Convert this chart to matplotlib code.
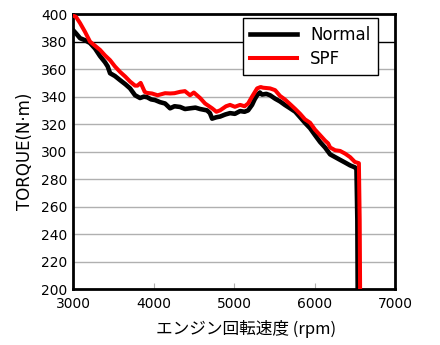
import matplotlib
matplotlib.use("Agg")
import matplotlib.pyplot as plt

# engine speed (rpm) and torque (N·m)
normal_rpm = [3000, 3037, 3087, 3150, 3211, 3273, 3335, 3397, 3430, 3460, 3520,
              3584, 3650, 3708, 3770, 3832, 3880, 3919, 3970, 4018, 4080, 4143,
              4205, 4260, 4329, 4390, 4453, 4520, 4578, 4664, 4700, 4727, 4780,
              4826, 4890, 4950, 5010, 5075, 5130, 5174, 5223, 5255, 5286, 5320,
              5347, 5400, 5447, 5510, 5571, 5630, 5696, 5760, 5820, 5880, 5944,
              6005, 6068, 6130, 6193, 6255, 6317, 6380, 6441, 6503, 6520, 6531,
              6535]
normal_torque = [388.4, 386, 382.5, 381, 379, 375, 369.5, 365, 362, 357, 355,
                 352, 349, 346, 341, 339, 340, 339.6, 338, 337.5, 336, 335,
                 331.5, 333, 332.5, 331, 331.5, 332, 331, 330, 328, 324, 325,
                 325.5, 327, 328, 327.5, 329.5, 329, 330, 334, 338, 341, 343,
                 341.5, 342, 341, 338.5, 336.5, 334, 331.5, 329, 325, 321, 317,
                 312, 307, 303, 298, 296, 294, 292, 290, 288.5, 287, 250,
                 200]

spf_rpm = [3000, 3037, 3087, 3150, 3211, 3273, 3335, 3397, 3460, 3520, 3584,
           3650, 3708, 3770, 3800, 3840, 3890, 3919, 3980, 4050, 4143, 4205,
           4260, 4329, 4390, 4453, 4500, 4578, 4640, 4727, 4780, 4826, 4900,
           4950, 5010, 5075, 5130, 5174, 5223, 5286, 5330, 5360, 5447, 5510,
           5571, 5630, 5696, 5760, 5820, 5880, 5944, 6005, 6068, 6130, 6168,
           6193, 6255, 6317, 6380, 6441, 6500, 6550, 6560, 6565]
spf_torque = [399, 398, 393.5, 387, 380, 377, 374, 370, 366.5, 362, 358,
              354.5, 351, 348, 348, 350, 343.5, 342.7, 342.3, 341, 342.5, 342.3,
              342.5, 343.5, 344, 341, 343, 339, 335, 331.5, 329, 330, 333,
              334, 332.6, 334, 333, 335, 340, 346, 347, 346.5, 346, 344.7,
              340.5, 338, 334.5, 331, 327.5, 323.5, 321, 316, 312, 308, 306,
              303, 301, 300.5, 298.5, 296, 292.5, 291.6, 250, 200]

x_ticks = [3000, 4000, 5000, 6000, 7000]
y_ticks = [200, 220, 240, 260, 280, 300, 320, 340, 360, 380, 400]

plt.rcParams["font.family"] = ["DejaVu Sans", "Noto Sans CJK JP"]

fig = plt.figure(figsize=(4.4, 3.45), dpi=100)
ax = fig.add_axes([0.166, 0.162, 0.732, 0.797])

for y in y_ticks[1:-1]:
    color = "black" if y == 380 else "#b0b0b0"
    ax.axhline(y, color=color, lw=1.0, zorder=1)

ax.plot(normal_rpm, normal_torque, color="black", lw=3.3, label="Normal", zorder=3)
ax.plot(spf_rpm, spf_torque, color="#ff0000", lw=2.9, label="SPF", zorder=4)

ax.set_xlim(3000, 7000)
ax.set_ylim(200, 400)
ax.set_xticks(x_ticks)
ax.set_yticks(y_ticks)
ax.tick_params(axis="x", direction="in", length=4, color="#b0b0b0", labelsize=10, pad=6)
ax.tick_params(axis="y", length=0, labelsize=10, pad=4)
for s in ax.spines.values():
    s.set_linewidth(2)

ax.set_xlabel("エンジン回転速度 (rpm)", fontsize=12,
              family=["Noto Sans CJK JP", "DejaVu Sans"])
ax.xaxis.set_label_coords(0.536, -0.112)
ax.set_ylabel("TORQUE(N·m)", fontsize=12, labelpad=5)

leg = ax.legend(loc="upper right", bbox_to_anchor=(0.947, 0.985), borderaxespad=0,
                fontsize=12, handlelength=2.8, fancybox=False, framealpha=1,
                borderpad=0.45, labelspacing=0.35, handletextpad=0.8)
leg.get_frame().set_edgecolor("black")
leg.get_frame().set_linewidth(1.0)

fig.savefig("out.png", dpi=100)
